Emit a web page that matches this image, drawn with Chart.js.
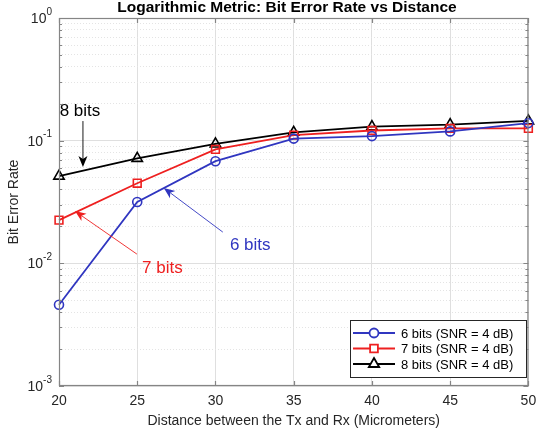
<!DOCTYPE html>
<html>
<head>
<meta charset="utf-8">
<script src="https://cdn.jsdelivr.net/npm/chart.js@4.4.1/dist/chart.umd.min.js"></script>
<style>
html, body { margin: 0; padding: 0; background: #fff; }
#wrap { width: 536px; height: 436px; }
</style>
</head>
<body>
<div id="wrap"><canvas id="berChart"></canvas></div>
<script>
// values
const distances = [20, 25, 30, 35, 40, 45, 50];
const ber6 = [0.0046, 0.0316, 0.068, 0.104, 0.109, 0.119, 0.139];
const ber7 = [0.0225, 0.045, 0.085, 0.111, 0.121, 0.126, 0.126];
const ber8 = [0.0514, 0.0717, 0.094, 0.117, 0.130, 0.135, 0.145];
const seriesNames = ['6 bits (SNR = 4 dB)', '7 bits (SNR = 4 dB)', '8 bits (SNR = 4 dB)'];
const xTicks = [20, 25, 30, 35, 40, 45, 50];
const yDecades = [-3, -2, -1, 0];

// text callouts, in data coordinates: label, text at, arrow from, arrow tip
const calloutLabels = ['8 bits', '7 bits', '6 bits'];
const calloutText = [[21.34, 0.174], [26.61, 0.00914], [32.22, 0.01408]];
const calloutFrom = [[21.53, 0.1445], [24.98, 0.01189], [30.47, 0.01797]];
const calloutTip = [[21.53, 0.0609], [21.02, 0.02665], [26.70, 0.0411]];

const BLUE = '#3036c0';
const RED = '#ee2020';
const BLACK = '#000000';
const calloutColors = [BLACK, RED, BLUE];
const FONT = '"Liberation Sans", Arial, sans-serif';

function isDecade(v) {
    const l = Math.log10(v);
    return Math.abs(l - Math.round(l)) < 1e-6;
}

const yTickValues = [];
yDecades.forEach(function(d) {
    if (d === yDecades[yDecades.length - 1]) {
        yTickValues.push(Math.pow(10, d));
        return;
    }
    for (let m = 1; m <= 9; m++) yTickValues.push(m * Math.pow(10, d));
});

function arrow(ctx, x0, y0, x1, y1, color) {
    const ang = Math.atan2(y1 - y0, x1 - x0);
    const len = 11, half = 4.5, notch = 8;
    ctx.save();
    ctx.strokeStyle = color;
    ctx.fillStyle = color;
    ctx.lineWidth = 0.9;
    ctx.beginPath();
    ctx.moveTo(x0, y0);
    ctx.lineTo(x1 - Math.cos(ang) * notch, y1 - Math.sin(ang) * notch);
    ctx.stroke();
    ctx.translate(x1, y1);
    ctx.rotate(ang);
    ctx.beginPath();
    ctx.moveTo(0, 0);
    ctx.lineTo(-len, -half);
    ctx.lineTo(-notch, 0);
    ctx.lineTo(-len, half);
    ctx.closePath();
    ctx.fill();
    ctx.restore();
}

const matlabLook = {
    id: 'matlabLook',
    afterDatasetsDraw(chart) {
        const ctx = chart.ctx;
        const area = chart.chartArea;
        const xs = chart.scales.x;
        const ys = chart.scales.y;

        // callouts
        ctx.save();
        ctx.font = '17px ' + FONT;
        ctx.textAlign = 'center';
        ctx.textBaseline = 'middle';
        calloutLabels.forEach(function(lbl, i) {
            const c = calloutColors[i];
            arrow(ctx,
                xs.getPixelForValue(calloutFrom[i][0]), ys.getPixelForValue(calloutFrom[i][1]),
                xs.getPixelForValue(calloutTip[i][0]), ys.getPixelForValue(calloutTip[i][1]), c);
            ctx.fillStyle = c;
            ctx.fillText(lbl, xs.getPixelForValue(calloutText[i][0]), ys.getPixelForValue(calloutText[i][1]));
        });
        ctx.restore();

        // box and inward tick marks
        ctx.save();
        ctx.strokeStyle = '#858585';
        ctx.lineWidth = 1.2;
        ctx.strokeRect(area.left + 0.5, area.top + 0.5, area.right - area.left - 1, area.bottom - area.top - 1);
        ctx.beginPath();
        xTicks.forEach(function(v) {
            const px = Math.round(xs.getPixelForValue(v)) + 0.5;
            ctx.moveTo(px, area.bottom); ctx.lineTo(px, area.bottom - 5);
            ctx.moveTo(px, area.top); ctx.lineTo(px, area.top + 5);
        });
        yTickValues.forEach(function(v) {
            const py = Math.round(ys.getPixelForValue(v)) + 0.5;
            const tl = isDecade(v) ? 5 : 3;
            ctx.moveTo(area.left, py); ctx.lineTo(area.left + tl, py);
            ctx.moveTo(area.right, py); ctx.lineTo(area.right - tl, py);
        });
        ctx.stroke();

        // y tick labels with superscript exponents
        ctx.fillStyle = '#262626';
        yDecades.forEach(function(d) {
            const py = ys.getPixelForValue(Math.pow(10, d));
            const exp = String(d);
            ctx.font = '10px ' + FONT;
            const ew = ctx.measureText(exp).width;
            ctx.textBaseline = 'middle';
            ctx.textAlign = 'left';
            ctx.fillText(exp, area.left - 7 - ew, py - 6);
            ctx.font = '14px ' + FONT;
            ctx.textAlign = 'right';
            ctx.fillText('10', area.left - 7 - ew, py + 1);
        });

        // title
        ctx.fillStyle = '#000';
        ctx.font = 'bold 15.5px ' + FONT;
        ctx.textAlign = 'center';
        ctx.textBaseline = 'alphabetic';
        ctx.fillText('Logarithmic Metric: Bit Error Rate vs Distance', 287, 12);

        // legend
        const lx = 350, ly = 320, lw = 176, lh = 57;
        ctx.fillStyle = '#fff';
        ctx.fillRect(lx, ly, lw, lh);
        ctx.strokeStyle = '#262626';
        ctx.lineWidth = 1;
        ctx.strokeRect(lx + 0.5, ly + 0.5, lw, lh);
        ctx.font = '13px ' + FONT;
        ctx.textAlign = 'left';
        ctx.textBaseline = 'middle';
        chart.data.datasets.forEach(function(ds, i) {
            const ry = ly + 13 + i * 15.5;
            ctx.strokeStyle = ds.borderColor;
            ctx.lineWidth = ds.borderWidth;
            ctx.beginPath();
            ctx.moveTo(lx + 3, ry); ctx.lineTo(lx + 45, ry);
            ctx.stroke();
            ctx.fillStyle = '#fff';
            Chart.helpers.drawPoint(ctx, {
                pointStyle: ds.pointStyle, radius: ds.pointRadius, rotation: 0,
                borderWidth: ds.borderWidth
            }, lx + 24, ry);
            ctx.fillStyle = '#000';
            ctx.fillText(ds.label, lx + 51, ry + 1);
        });
        ctx.restore();
    }
};

function makeSet(label, data, color, style, radius) {
    return {
        label: label,
        data: data,
        borderColor: color,
        backgroundColor: color,
        borderWidth: 1.8,
        pointStyle: style,
        pointRadius: radius,
        pointBorderColor: color,
        pointBackgroundColor: 'rgba(0,0,0,0)',
        pointBorderWidth: 1.6,
        tension: 0,
        clip: 10
    };
}

new Chart(document.getElementById('berChart'), {
    type: 'line',
    data: {
        labels: distances,
        datasets: [
            makeSet(seriesNames[0], distances.map((d, i) => ({ x: d, y: ber6[i] })), BLUE, 'circle', 4.5),
            makeSet(seriesNames[1], distances.map((d, i) => ({ x: d, y: ber7[i] })), RED, 'rect', 5.5),
            makeSet(seriesNames[2], distances.map((d, i) => ({ x: d, y: ber8[i] })), BLACK, 'triangle', 6)
        ]
    },
    options: {
        responsive: true,
        maintainAspectRatio: false,
        animation: false,
        devicePixelRatio: 1,
        layout: { padding: { top: 18, right: 7, left: 0, bottom: 0 } },
        plugins: {
            legend: { display: false },
            title: { display: false },
            tooltip: { enabled: false }
        },
        scales: {
            x: {
                type: 'linear',
                min: 20,
                max: 50,
                afterBuildTicks(scale) { scale.ticks = xTicks.map(v => ({ value: v })); },
                afterFit(scale) {
                    scale.height = 50;
                    scale.paddingLeft = 0;
                    scale.paddingRight = 0;
                },
                ticks: {
                    color: '#262626',
                    font: { family: FONT, size: 14 },
                    padding: 7,
                    maxRotation: 0,
                    autoSkip: false
                },
                grid: { color: '#dfdfdf', lineWidth: 1, drawTicks: false },
                border: { display: false },
                title: {
                    display: true,
                    text: 'Distance between the Tx and Rx (Micrometers)',
                    color: '#262626',
                    font: { family: FONT, size: 14 },
                    padding: { top: 0, bottom: 6.5 }
                }
            },
            y: {
                type: 'logarithmic',
                min: 0.001,
                max: 1,
                afterBuildTicks(scale) { scale.ticks = yTickValues.map(v => ({ value: v })); },
                afterFit(scale) {
                    scale.width = 59;
                    scale.paddingTop = 0;
                    scale.paddingBottom = 0;
                },
                ticks: { display: false },
                grid: {
                    drawTicks: false,
                    lineWidth: 1,
                    color: c => (c.tick && !isDecade(c.tick.value)) ? '#e4e4e4' : '#dfdfdf'
                },
                border: {
                    display: false,
                    dash: c => (c.tick && !isDecade(c.tick.value)) ? [1, 2] : []
                },
                title: {
                    display: true,
                    text: 'Bit Error Rate',
                    color: '#262626',
                    font: { family: FONT, size: 14 },
                    padding: { top: 5.6, bottom: 0 }
                }
            }
        }
    },
    plugins: [matlabLook]
});
</script>
</body>
</html>
